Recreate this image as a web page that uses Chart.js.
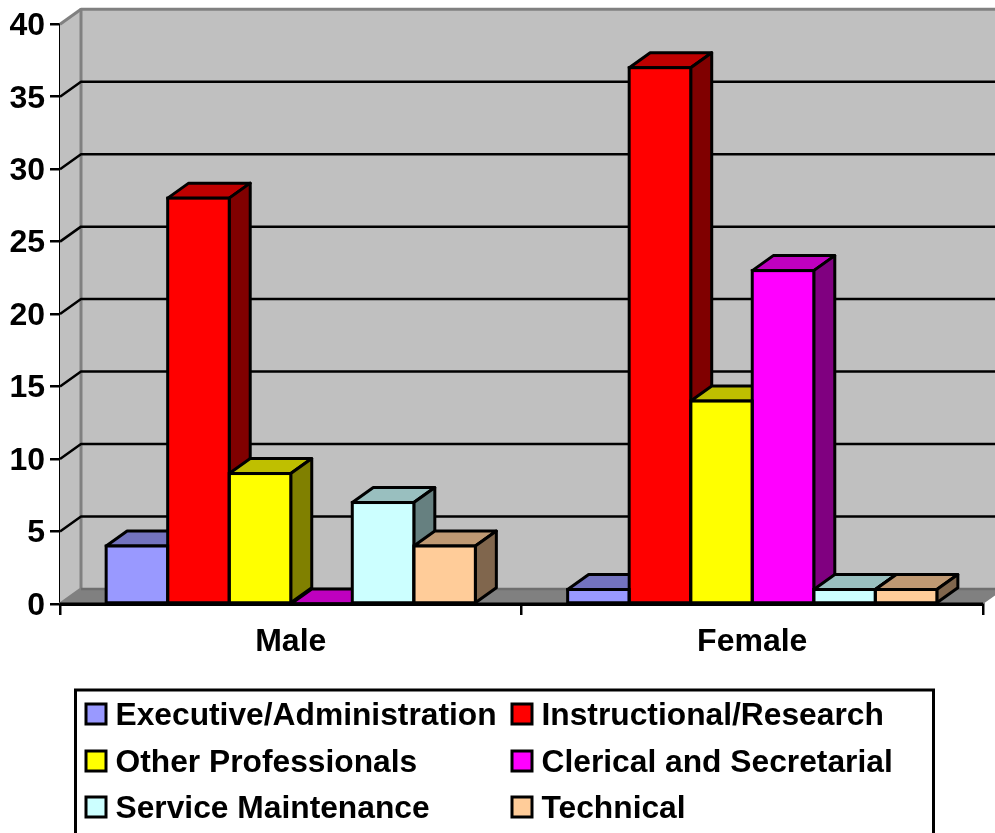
<!DOCTYPE html>
<html>
<head>
<meta charset="utf-8">
<style>
  html, body { margin: 0; padding: 0; background: #fff; overflow: hidden; }
  canvas { display: block; }
</style>
<script src="https://cdn.jsdelivr.net/npm/chart.js@4/dist/chart.umd.min.js"></script>
</head>
<body>
<canvas id="myChart" width="995" height="833"></canvas>
<script>
const categories = ['Male', 'Female'];
const seriesNames = ['Executive/Administration', 'Instructional/Research', 'Other Professionals', 'Clerical and Secretarial', 'Service Maintenance', 'Technical'];
const executive = [4, 1];
const instructional = [28, 37];
const otherProfessionals = [9, 14];
const clerical = [0, 23];
const serviceMaintenance = [7, 1];
const technical = [4, 1];
const seriesValues = [executive, instructional, otherProfessionals, clerical, serviceMaintenance, technical];
const seriesColors = ['#9999FF', '#FF0000', '#FFFF00', '#FF00FF', '#CCFFFF', '#FFCC99'];
const tickValues = [0, 5, 10, 15, 20, 25, 30, 35, 40];

const DEPTH_X = 21;
const DEPTH_Y = 15;
const FONT = 'bold 31.75px "Liberation Sans", Arial, sans-serif';

function shade(hex, f) {
    const n = parseInt(hex.slice(1), 16);
    const r = Math.round((n >> 16 & 255) * f);
    const g = Math.round((n >> 8 & 255) * f);
    const b = Math.round((n & 255) * f);
    return `rgb(${r},${g},${b})`;
}

function poly(ctx, pts, fill, stroke, width) {
    ctx.beginPath();
    pts.forEach((p, i) => i ? ctx.lineTo(p[0], p[1]) : ctx.moveTo(p[0], p[1]));
    ctx.closePath();
    if (fill) {
        ctx.fillStyle = fill;
        ctx.fill();
    }
    if (stroke) {
        ctx.strokeStyle = stroke;
        ctx.lineWidth = width;
        ctx.stroke();
    }
}

function line(ctx, pts, color, width) {
    ctx.beginPath();
    pts.forEach((p, i) => i ? ctx.lineTo(p[0], p[1]) : ctx.moveTo(p[0], p[1]));
    ctx.strokeStyle = color;
    ctx.lineWidth = width;
    ctx.stroke();
}

function barRect(bar) {
    const half = bar.width / 2;
    return { l: bar.x - half, r: bar.x + half, t: bar.y, b: bar.base };
}

// walls, floor and gridlines behind the bars
const wallsPlugin = {
    id: 'walls',
    beforeDatasetsDraw(chart) {
        const ctx = chart.ctx;
        const { left, right, top, bottom } = chart.chartArea;
        const yScale = chart.scales.y;
        ctx.save();
        ctx.lineJoin = 'round';
        poly(ctx, [[left, top], [left + DEPTH_X, top - DEPTH_Y], [left + DEPTH_X, bottom - DEPTH_Y], [left, bottom]], '#C0C0C0');
        poly(ctx, [[left + DEPTH_X, top - DEPTH_Y], [right + DEPTH_X, top - DEPTH_Y], [right + DEPTH_X, bottom - DEPTH_Y], [left + DEPTH_X, bottom - DEPTH_Y]], '#C0C0C0');
        poly(ctx, [[left, bottom], [left + DEPTH_X, bottom - DEPTH_Y], [right + DEPTH_X, bottom - DEPTH_Y], [right, bottom]], '#808080');
        line(ctx, [[left, bottom], [left + DEPTH_X, bottom - DEPTH_Y], [left + DEPTH_X, top - DEPTH_Y], [right + DEPTH_X, top - DEPTH_Y]], '#808080', 3);
        line(ctx, [[left, top], [left + DEPTH_X, top - DEPTH_Y]], '#808080', 3);
        line(ctx, [[left + DEPTH_X, bottom - DEPTH_Y], [right + DEPTH_X, bottom - DEPTH_Y]], '#6E6E6E', 2.5);
        tickValues.forEach(v => {
            if (v === 0 || v === 40) return;
            const y = yScale.getPixelForValue(v);
            line(ctx, [[left, y], [left + DEPTH_X, y - DEPTH_Y], [right + DEPTH_X, y - DEPTH_Y]], '#000', 2.5);
        });
        // top and side faces, left to right; the library paints the fronts over them
        categories.forEach((_, i) => {
            seriesValues.forEach((_, d) => {
                const r = barRect(chart.getDatasetMeta(d).data[i]);
                const color = seriesColors[d];
                poly(ctx, [[r.l, r.t], [r.l + DEPTH_X, r.t - DEPTH_Y], [r.r + DEPTH_X, r.t - DEPTH_Y], [r.r, r.t]], shade(color, 0.75), '#000', 3);
                if (r.b - r.t > 0.5) {
                    poly(ctx, [[r.r, r.t], [r.r + DEPTH_X, r.t - DEPTH_Y], [r.r + DEPTH_X, r.b - DEPTH_Y], [r.r, r.b]], shade(color, 0.5), '#000', 3);
                }
            });
        });
        ctx.restore();
    },
    afterDatasetsDraw(chart) {
        const ctx = chart.ctx;
        ctx.save();
        categories.forEach((_, i) => {
            seriesValues.forEach((_, d) => {
                const r = barRect(chart.getDatasetMeta(d).data[i]);
                ctx.strokeStyle = '#000';
                ctx.lineWidth = 3;
                ctx.strokeRect(r.l, r.t, r.r - r.l, r.b - r.t);
            });
        });
        // axis line goes back over the bar bases
        const { left, right, bottom } = chart.chartArea;
        line(ctx, [[left, bottom], [right, bottom]], '#000', 3);
        ctx.restore();
    }
};

// two column boxed legend, its bottom edge is cut off by the page
const boxLegendPlugin = {
    id: 'boxLegend',
    afterDraw(chart) {
        const ctx = chart.ctx;
        const colX = [86, 512];
        const rowY = [714, 761, 807];
        ctx.save();
        ctx.strokeStyle = '#000';
        ctx.lineWidth = 3;
        ctx.strokeRect(75.5, 690, 858, 160);
        ctx.font = FONT;
        ctx.fillStyle = '#000';
        ctx.textBaseline = 'middle';
        seriesNames.forEach((name, i) => {
            const x = colX[i % 2];
            const y = rowY[Math.floor(i / 2)];
            ctx.fillStyle = seriesColors[i];
            ctx.fillRect(x, y - 10, 20, 20);
            ctx.strokeRect(x, y - 10, 20, 20);
            ctx.fillStyle = '#000';
            ctx.fillText(name, x + 29.5, y + 2);
        });
        ctx.restore();
    }
};

const ctx = document.getElementById('myChart').getContext('2d');
const myChart = new Chart(ctx, {
    type: 'bar',
    data: {
        labels: categories,
        datasets: seriesNames.map((name, i) => ({
            label: name,
            data: seriesValues[i],
            backgroundColor: seriesColors[i],
            borderWidth: 0,
            categoryPercentage: 0.8,
            barPercentage: 1
        }))
    },
    options: {
        responsive: false,
        animation: false,
        layout: { padding: { left: 0, right: 12, top: 24, bottom: 0 } },
        plugins: {
            legend: { display: false },
            tooltip: { enabled: false }
        },
        scales: {
            x: {
                afterFit: s => { s.height = 229; },
                grid: { drawOnChartArea: false, color: '#000', lineWidth: 2.5, tickLength: 11 },
                border: { color: '#000', width: 3 },
                ticks: { color: '#000', font: { family: '"Liberation Sans"', size: 32, weight: 'bold' }, padding: 8, maxRotation: 0 }
            },
            y: {
                min: 0,
                max: 40,
                afterFit: s => { s.width = 60; },
                afterBuildTicks: s => { s.ticks = tickValues.map(v => ({ value: v })); },
                grid: { drawOnChartArea: false, color: '#000', lineWidth: 2.5, tickLength: 10 },
                border: { color: '#000', width: 3 },
                ticks: { color: '#000', font: { family: '"Liberation Sans"', size: 32, weight: 'bold' }, padding: 5, labelOffset: 2 }
            }
        }
    },
    plugins: [wallsPlugin, boxLegendPlugin]
});
</script>
</body>
</html>
